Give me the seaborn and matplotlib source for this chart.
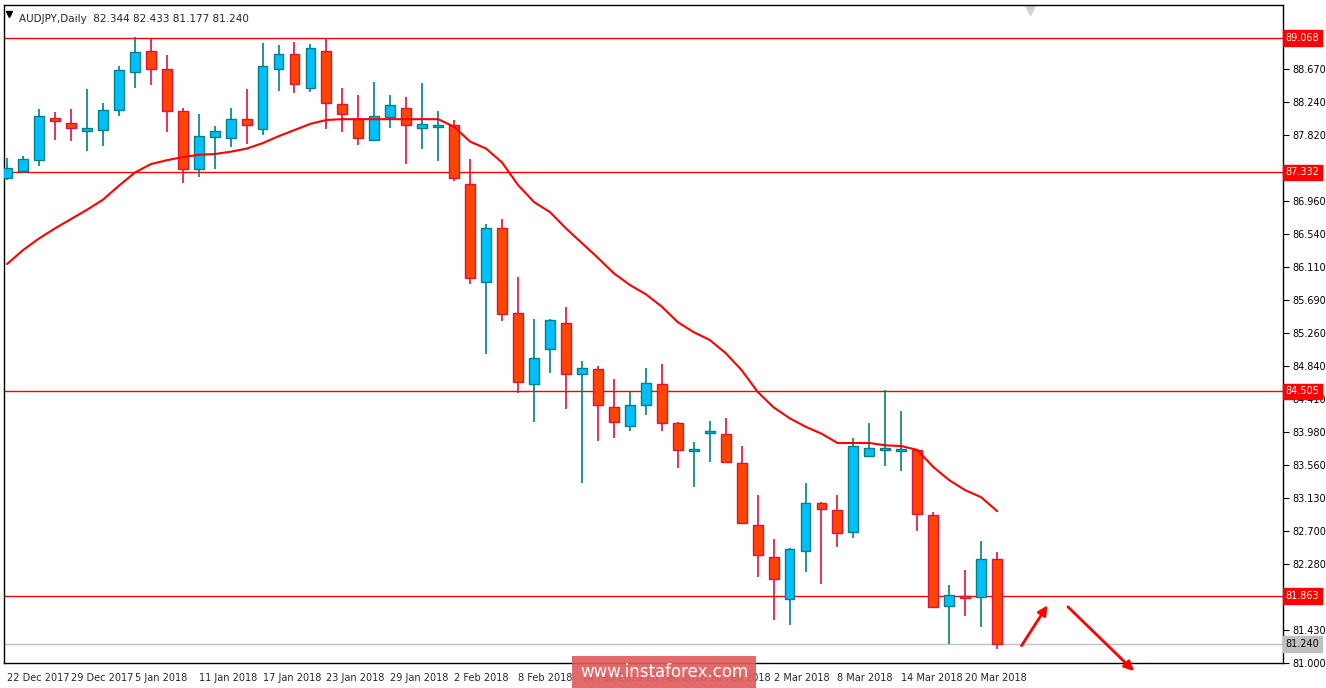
import matplotlib
matplotlib.use("Agg")
import matplotlib.pyplot as plt
import seaborn as sns
import pandas as pd
import numpy as np

opens = [87.26,87.35,87.49,88.03,87.97,87.87,87.88,88.14,88.63,88.90,88.67,88.12,87.38,87.79,87.78,88.02,87.89,88.67,88.86,88.42,
         88.90,88.22,88.02,87.75,88.05,88.16,87.91,87.92,87.95,87.18,85.92,86.61,85.52,84.60,85.05,85.39,84.73,84.79,84.30,84.06,
         84.33,84.60,84.10,83.74,83.97,83.95,83.58,82.78,82.37,81.82,82.45,83.06,82.97,82.69,83.67,83.75,83.74,83.75,82.91,81.73,
         81.86,81.85,82.344]
closes = [87.39,87.51,88.06,88.00,87.91,87.91,88.14,88.66,88.89,88.67,88.12,87.38,87.80,87.87,88.02,87.95,88.71,88.86,88.47,88.94,
          88.23,88.09,87.78,88.06,88.20,87.95,87.96,87.93,87.26,85.97,86.61,85.50,84.63,84.94,85.43,84.73,84.81,84.33,84.11,84.33,
          84.61,84.10,83.75,83.75,83.98,83.59,82.81,82.39,82.08,82.47,83.06,82.99,82.68,83.80,83.77,83.76,83.75,82.92,81.72,81.88,
          81.84,82.34,81.240]
highs = [87.52,87.55,88.15,88.11,88.15,88.41,88.23,88.71,89.08,89.06,88.85,88.16,88.09,87.93,88.16,88.41,89.00,88.98,89.02,88.99,
         89.07,88.42,88.33,88.50,88.33,88.31,88.49,88.13,88.01,87.51,86.67,86.73,85.98,85.44,85.44,85.59,84.90,84.84,84.67,84.50,
         84.81,84.86,84.11,83.85,84.12,84.16,83.80,83.17,82.60,82.48,83.32,83.08,83.17,83.90,84.10,84.52,84.25,83.76,82.95,82.01,
         82.20,82.57,82.433]
lows = [87.24,87.33,87.42,87.75,87.74,87.61,87.68,88.06,88.42,88.46,87.86,87.20,87.27,87.38,87.66,87.70,87.82,88.38,88.36,88.37,
        87.89,87.86,87.69,87.74,87.91,87.44,87.64,87.48,87.22,85.89,84.99,85.41,84.49,84.11,84.74,84.28,83.32,83.86,83.90,83.99,
        84.20,83.99,83.52,83.27,83.59,83.58,82.79,82.11,81.55,81.49,82.17,82.02,82.50,82.62,83.66,83.54,83.48,82.70,81.71,81.25,
        81.61,81.46,81.177]
ma = [86.15,86.33,86.48,86.61,86.73,86.85,86.98,87.16,87.33,87.44,87.49,87.53,87.56,87.57,87.60,87.64,87.71,87.80,87.88,87.96,
      88.01,88.02,88.02,88.02,88.02,88.02,88.02,88.02,87.92,87.73,87.64,87.46,87.17,86.95,86.82,86.61,86.42,86.23,86.03,85.88,
      85.76,85.60,85.40,85.27,85.17,85.00,84.78,84.50,84.30,84.16,84.05,83.96,83.84,83.84,83.84,83.81,83.80,83.75,83.53,83.36,
      83.23,83.14,82.96]
date_labels = ["22 Dec 2017","29 Dec 2017","5 Jan 2018","11 Jan 2018","17 Jan 2018","23 Jan 2018","29 Jan 2018",
               "2 Feb 2018","8 Feb 2018","14 Feb 2018","20 Feb 2018","26 Feb 2018","2 Mar 2018","8 Mar 2018",
               "14 Mar 2018","20 Mar 2018"]
price_ticks = [88.670,88.240,87.820,87.390,86.960,86.540,86.110,85.690,85.260,84.840,84.410,83.980,83.560,83.130,
               82.700,82.280,81.850,81.430,81.000]
hidden_ticks = [87.390, 81.850]
levels = [89.068, 87.332, 84.505, 81.863]
last_price = 81.240

sns.set_style("white")
plt.rcParams['font.family'] = ['DejaVu Sans']

df = pd.DataFrame(dict(i=np.arange(len(opens)), o=opens, c=closes, h=highs, l=lows, ma=ma))

W, H = 1326, 688
fig = plt.figure(figsize=(W/100, H/100), dpi=100)
ax = fig.add_axes([4/W, 1-663/H, (1283-4)/W, (663-5)/H])
ymin, ymax = 81.0, 89.494
ax.set_ylim(ymin, ymax)
ax.set_xlim(-0.19, 79.9)

for y in levels:
    ax.axhline(y, color="#FF0000", lw=1, zorder=1)
ax.axhline(last_price, color="#C0C0C0", lw=1, zorder=1)

bull = df[df.c >= df.o]
bear = df[df.c < df.o]
for sub, fc, ec in [(bull, "#00BFFF", "#008080"), (bear, "#FF4500", "#DC143C")]:
    ax.vlines(sub.i, sub.l, sub.h, color=ec, lw=1.2, zorder=2)
    bottoms = np.minimum(sub.o, sub.c)
    heights = np.maximum(np.abs(sub.c - sub.o), 0.02)
    ax.bar(sub.i, heights, bottom=bottoms, width=0.62, color=fc, edgecolor=ec, lw=1, zorder=3)

sns.lineplot(data=df, x="i", y="ma", color="#FF0000", lw=1.5, ax=ax, zorder=4)
ax.set_xlabel(""); ax.set_ylabel("")

ax.yaxis.tick_right()
ax.set_yticks(price_ticks)
ax.set_yticklabels(["" if t in hidden_ticks else f"{t:.3f}" for t in price_ticks], fontsize=7)
ax.tick_params(axis='y', length=4, pad=3, colors="black", direction="out")
ax.set_xticks(np.arange(0, 4*len(date_labels), 4))
ax.set_xticklabels(date_labels, fontsize=7, ha="left")
ax.tick_params(axis='x', length=4, pad=3, direction="out")
for s in ax.spines.values():
    s.set_color("black"); s.set_linewidth(1)

for y in levels:
    ax.text(1.002, (y-ymin)/(ymax-ymin), f"{y:.3f}", transform=ax.transAxes, fontsize=7, color="white",
            va="center", ha="left", bbox=dict(boxstyle="square,pad=0.3", fc="#FF0000", ec="#FF0000"))
ax.text(1.002, (last_price-ymin)/(ymax-ymin), f"{last_price:.3f}", transform=ax.transAxes, fontsize=7,
        color="black", va="center", ha="left", bbox=dict(boxstyle="square,pad=0.3", fc="#C0C0C0", ec="#C0C0C0"))

ax.text(0.012, 0.986, "AUDJPY,Daily  82.344 82.433 81.177 81.240", transform=ax.transAxes, fontsize=7.5, va="top")
ax.plot([0.004], [0.986], marker="v", color="black", ms=4, transform=ax.transAxes)
ax.plot([0.802], [0.994], marker="v", color="#D0D0D0", ms=8, transform=ax.transAxes)

fig.add_artist(matplotlib.patches.FancyArrowPatch((1020/W, 1-648/H), (1049/W, 1-603/H), arrowstyle="-|>",
               mutation_scale=14, color="#FF0000", lw=2, transform=fig.transFigure))
fig.add_artist(matplotlib.patches.FancyArrowPatch((1066/W, 1-605/H), (1136/W, 1-673/H), arrowstyle="-|>",
               mutation_scale=14, color="#FF0000", lw=2, transform=fig.transFigure))

fig.text(664/W, 1-672/H, "www.instaforex.com", fontsize=12, color="white", ha="center", va="center",
         bbox=dict(boxstyle="square,pad=0.45", fc="#E05A5A", ec="none", alpha=0.9))

fig.savefig("out.png", dpi=100)
